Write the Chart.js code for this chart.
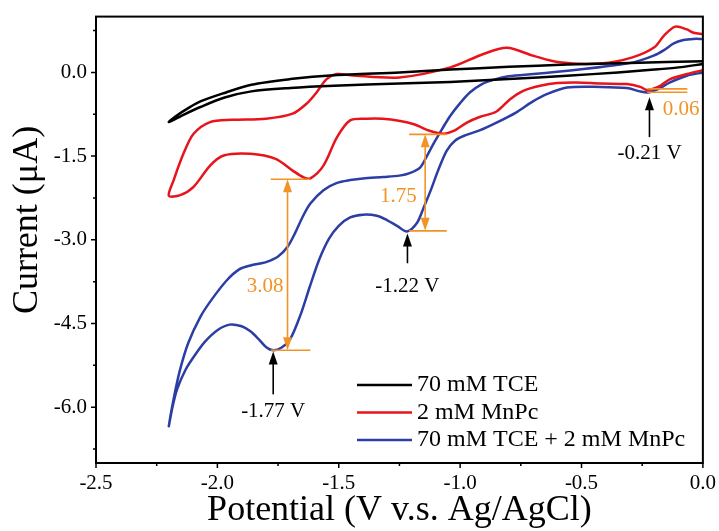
<!DOCTYPE html>
<html lang="en">
<head>
<meta charset="UTF-8" />
<title>CV - TCE / MnPc</title>
<script src="https://cdn.jsdelivr.net/npm/chart.js@4.4.1/dist/chart.umd.min.js"></script>
<style>
  html, body { margin: 0; padding: 0; background: #fff; }
  .grafico { width: 719px; height: 531px; }
</style>
</head>
<body>
<div class="grafico"><canvas id="myCanvas"></canvas></div>

<script>
// valores (V vs Ag/AgCl, corrente em uA)
const seriesLabels = ['70 mM TCE', '2 mM MnPc', '70 mM TCE + 2 mM MnPc'];
const seriesColors = ['#000000', '#e8141c', '#2c3ea3'];

// 70 mM TCE (volta fechada: ida catodica e volta anodica)
const tceV = [0.0, -0.1, -0.2, -0.35, -0.56, -0.8, -1.04, -1.25, -1.52, -1.7, -1.86, -1.97, -2.07, -2.14, -2.2,
              -2.17, -2.12, -2.07, -1.98, -1.86, -1.7, -1.52, -1.25, -1.04, -0.8, -0.56, -0.3, 0.0];
const tceI = [0.15, 0.09, 0.05, 0.0, -0.06, -0.12, -0.17, -0.2, -0.24, -0.28, -0.34, -0.45, -0.62, -0.76, -0.89,
              -0.78, -0.64, -0.52, -0.38, -0.22, -0.12, -0.05, 0.0, 0.05, 0.1, 0.14, 0.17, 0.2];

// 2 mM MnPc
const mnpcV = [0.0, -0.066, -0.135, -0.176, -0.21, -0.23, -0.258, -0.313, -0.42, -0.52, -0.6, -0.67, -0.74, -0.794, -0.85,
               -0.92, -0.972, -1.027, -1.068, -1.123, -1.19, -1.247, -1.32, -1.384, -1.453, -1.507, -1.563, -1.617,
               -1.645, -1.69, -1.76, -1.864, -1.974, -2.03, -2.098, -2.153, -2.2,
               -2.18, -2.14, -2.098, -2.03, -1.94, -1.8, -1.69, -1.63, -1.59, -1.55, -1.507, -1.45, -1.25, -1.04,
               -0.904, -0.807, -0.7, -0.59, -0.42, -0.29, -0.2, -0.16, -0.114, -0.066, -0.038, 0.0];
const mnpcI = [0.04, -0.03, -0.12, -0.24, -0.3, -0.32, -0.26, -0.21, -0.2, -0.18, -0.19, -0.24, -0.33, -0.48, -0.7,
               -0.8, -0.9, -1.05, -1.1, -1.05, -0.93, -0.87, -0.83, -0.83, -0.86, -1.16, -1.67, -1.9,
               -1.88, -1.76, -1.55, -1.46, -1.49, -1.67, -2.05, -2.2, -2.21,
               -1.93, -1.46, -1.1, -0.89, -0.85, -0.83, -0.74, -0.55, -0.35, -0.12, -0.03, -0.05, -0.09, 0.09,
               0.33, 0.44, 0.3, 0.18, 0.16, 0.27, 0.45, 0.66, 0.82, 0.77, 0.71, 0.69];

// 70 mM TCE + 2 mM MnPc
const mixV = [0.0, -0.066, -0.135, -0.19, -0.225, -0.26, -0.313, -0.42, -0.56, -0.643, -0.7, -0.77, -0.85, -0.92,
              -0.98, -1.02, -1.055, -1.09, -1.12, -1.15, -1.178, -1.219, -1.26, -1.3, -1.343, -1.4, -1.453,
              -1.5, -1.54, -1.58, -1.62, -1.658, -1.7, -1.735, -1.77, -1.8, -1.83, -1.864, -1.9, -1.95, -2.0,
              -2.05, -2.09, -2.13, -2.166, -2.185, -2.2,
              -2.18, -2.155, -2.12, -2.07, -2.02, -1.96, -1.91, -1.864, -1.8, -1.75, -1.71, -1.68, -1.65, -1.617,
              -1.563, -1.507, -1.453, -1.4, -1.315, -1.25, -1.205, -1.164, -1.137, -1.11, -1.075, -1.041, -1.0,
              -0.96, -0.91, -0.86, -0.8, -0.698, -0.6, -0.492, -0.38, -0.286, -0.203, -0.16, -0.12, -0.08, -0.04, 0.0];
const mixI = [0.0, -0.06, -0.18, -0.31, -0.36, -0.34, -0.28, -0.26, -0.27, -0.39, -0.52, -0.72, -0.9, -1.04,
              -1.13, -1.22, -1.4, -1.75, -2.1, -2.42, -2.7, -2.85, -2.75, -2.65, -2.57, -2.55, -2.6,
              -2.75, -2.98, -3.35, -3.85, -4.35, -4.78, -4.93, -4.98, -4.92, -4.78, -4.64, -4.55, -4.52, -4.62,
              -4.82, -5.05, -5.32, -5.68, -6.0, -6.34,
              -5.85, -5.35, -4.85, -4.38, -4.05, -3.72, -3.53, -3.46, -3.4, -3.3, -3.12, -2.88, -2.6, -2.35,
              -2.11, -1.98, -1.93, -1.9, -1.875, -1.85, -1.8, -1.7, -1.5, -1.28, -1.02, -0.78, -0.55,
              -0.36, -0.21, -0.13, -0.07, -0.03, 0.01, 0.06, 0.12, 0.18, 0.3, 0.4, 0.52, 0.58, 0.6, 0.6];

// eixos
const xTicks = [-2.5, -2.0, -1.5, -1.0, -0.5, 0.0];
const xMinor = [-2.25, -1.75, -1.25, -0.75, -0.25];
const yTicks = [-6.0, -4.5, -3.0, -1.5, 0.0];
const yMinor = [-6.75, -5.25, -3.75, -2.25, -0.75, 0.75];

// picos marcados com seta preta
const peakText  = ['-1.77 V', '-1.22 V', '-0.21 V'];
const peakV     = [-1.77, -1.217, -0.22];
const peakTipI  = [-5.0, -2.885, -0.446];
const peakTailI = [-5.77, -3.42, -1.16];
const peakTextI = [-6.07, -3.84, -1.457];

// diferencas de corrente (laranja)
const gapText  = ['3.08', '1.75', '0.06'];
const gapV     = [-1.711, -1.144, null];
const gapTopI  = [-1.916, -1.11, -0.296];
const gapBotI  = [-4.98, -2.84, -0.357];
const gapFromV = [-1.78, -1.21, -0.229];
const gapToV   = [-1.617, -1.055, -0.064];
const gapTextV = [-1.803, -1.254, -0.09];
const gapTextI = [-3.84, -2.23, -0.66];

const FONTE = "'Liberation Serif', 'DejaVu Serif', serif";
const LARANJA = '#f39325';

function seta(ctx, x, y, dir, len, half) {
  // dir -1 = aponta pra cima, 1 = pra baixo
  ctx.beginPath();
  ctx.moveTo(x, y);
  ctx.lineTo(x - half, y - dir * len);
  ctx.lineTo(x + half, y - dir * len);
  ctx.closePath();
  ctx.fill();
}

function texto(ctx, str, x, y, cor, tam) {
  ctx.fillStyle = cor;
  ctx.font = tam + 'px ' + FONTE;
  ctx.textAlign = 'center';
  ctx.textBaseline = 'middle';
  ctx.fillText(str, x, y);
}

const extras = {
  id: 'extras',
  afterDatasetsDraw(chart) {
    const { ctx, chartArea: a, scales: { x, y } } = chart;
    ctx.save();

    // moldura
    ctx.strokeStyle = '#000';
    ctx.lineWidth = 2;
    ctx.strokeRect(a.left, a.top, a.right - a.left, a.bottom - a.top);

    // marcas dos eixos
    ctx.lineWidth = 1.5;
    ctx.beginPath();
    xTicks.concat(xMinor).forEach(v => {
      const px = x.getPixelForValue(v);
      const l = xTicks.includes(v) ? 5 : 3;
      ctx.moveTo(px, a.bottom); ctx.lineTo(px, a.bottom + l);
    });
    yTicks.concat(yMinor).forEach(v => {
      const py = y.getPixelForValue(v);
      const l = yTicks.includes(v) ? 5 : 3;
      ctx.moveTo(a.left, py); ctx.lineTo(a.left - l, py);
    });
    ctx.stroke();

    // laranja
    ctx.strokeStyle = LARANJA;
    ctx.fillStyle = LARANJA;
    ctx.lineWidth = 1.6;
    for (let i = 0; i < gapText.length; i++) {
      const x1 = x.getPixelForValue(gapFromV[i]);
      const x2 = x.getPixelForValue(gapToV[i]);
      const yt = y.getPixelForValue(gapTopI[i]);
      const yb = y.getPixelForValue(gapBotI[i]);
      ctx.beginPath();
      ctx.moveTo(x1, yt); ctx.lineTo(x2, yt);
      ctx.moveTo(x1, yb); ctx.lineTo(x2, yb);
      ctx.stroke();
      if (gapV[i] !== null) {
        const xv = x.getPixelForValue(gapV[i]);
        ctx.beginPath();
        ctx.moveTo(xv, yt + 10); ctx.lineTo(xv, yb - 10);
        ctx.stroke();
        seta(ctx, xv, yt, -1, 13, 4.5);
        seta(ctx, xv, yb, 1, 13, 4.5);
      }
      texto(ctx, gapText[i], x.getPixelForValue(gapTextV[i]), y.getPixelForValue(gapTextI[i]), LARANJA, 21);
    }

    // setas pretas dos picos
    ctx.strokeStyle = '#000';
    ctx.fillStyle = '#000';
    ctx.lineWidth = 1.6;
    for (let i = 0; i < peakText.length; i++) {
      const px = x.getPixelForValue(peakV[i]);
      const yt = y.getPixelForValue(peakTipI[i]);
      const yb = y.getPixelForValue(peakTailI[i]);
      ctx.beginPath();
      ctx.moveTo(px, yt + 8); ctx.lineTo(px, yb);
      ctx.stroke();
      seta(ctx, px, yt, -1, 13, 4.5);
      texto(ctx, peakText[i], px, y.getPixelForValue(peakTextI[i]), '#000', 21);
    }

    // legenda
    chart.data.datasets.forEach((ds, i) => {
      const ly = 385 + i * 27.5;
      ctx.strokeStyle = ds.borderColor;
      ctx.lineWidth = 2.5;
      ctx.beginPath();
      ctx.moveTo(357, ly); ctx.lineTo(412, ly);
      ctx.stroke();
      ctx.fillStyle = '#000';
      ctx.font = '24px ' + FONTE;
      ctx.textAlign = 'left';
      ctx.textBaseline = 'middle';
      ctx.fillText(ds.label, 417, ly);
    });

    // titulos dos eixos
    texto(ctx, 'Potential (V v.s. Ag/AgCl)', (a.left + a.right) / 2, 511, '#000', 36);
    ctx.translate(27.5, 220);
    ctx.rotate(-Math.PI / 2);
    texto(ctx, 'Current (\u03bcA)', 0, 0, '#000', 36);

    ctx.restore();
  }
};

function serie(vs, is) {
  return vs.map((v, i) => ({ x: v, y: is[i] }));
}

const datasets = [serie(tceV, tceI), serie(mnpcV, mnpcI), serie(mixV, mixI)].map((d, i) => ({
  label: seriesLabels[i],
  data: d,
  showLine: true,
  borderColor: seriesColors[i],
  backgroundColor: seriesColors[i],
  borderWidth: 2.5,
  pointRadius: 0,
  tension: 0.3,
  fill: false
}));

const ctx = document.getElementById('myCanvas').getContext('2d');
const myChart = new Chart(ctx, {
  type: 'scatter',
  data: { datasets: datasets },
  plugins: [extras],
  options: {
    responsive: true,
    maintainAspectRatio: false,
    devicePixelRatio: 1,
    animation: false,
    layout: { padding: { left: 0, top: 15, right: 16, bottom: 0 } },
    plugins: {
      legend: { display: false },
      tooltip: { enabled: false }
    },
    scales: {
      x: {
        type: 'linear',
        min: -2.5,
        max: 0.0,
        afterBuildTicks: s => { s.ticks = xTicks.map(v => ({ value: v })); },
        afterFit: s => { s.height = 68; },
        grid: { display: false, drawTicks: true, tickLength: 5 },
        border: { display: false },
        ticks: {
          color: '#000',
          padding: 3,
          maxRotation: 0,
          autoSkip: false,
          font: { family: FONTE, size: 21 },
          callback: v => v.toFixed(1)
        }
      },
      y: {
        type: 'linear',
        min: -7.0,
        max: 1.0,
        afterBuildTicks: s => { s.ticks = yTicks.map(v => ({ value: v })); },
        afterFit: s => { s.width = 96; },
        grid: { display: false, drawTicks: true, tickLength: 5 },
        border: { display: false },
        ticks: {
          color: '#000',
          padding: 4,
          autoSkip: false,
          font: { family: FONTE, size: 21 },
          callback: v => v.toFixed(1)
        }
      }
    }
  }
});
</script>
</body>
</html>
